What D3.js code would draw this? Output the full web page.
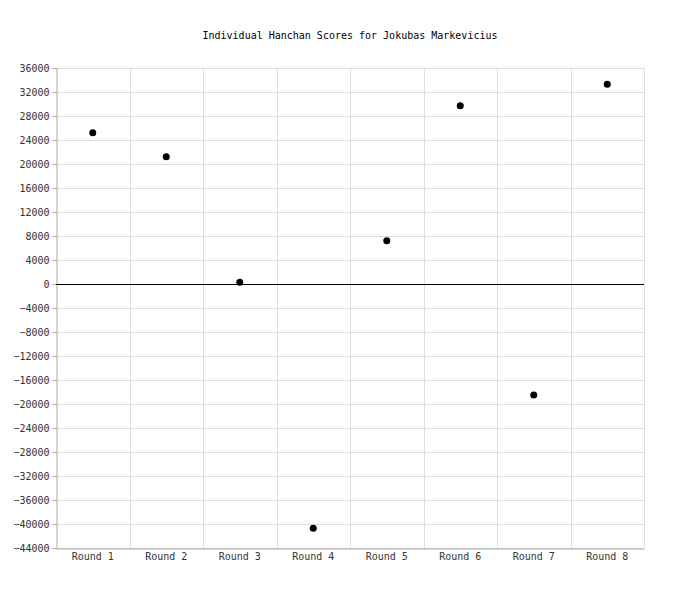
<!DOCTYPE html>
<html><head><meta charset="utf-8">
<script src="https://cdn.jsdelivr.net/npm/d3@7"></script>
<style>body{margin:0;background:#fff}text{font-family:"DejaVu Sans Mono",monospace;font-size:10px;fill:#333}</style>
</head><body><svg id="c" width="700" height="600"></svg>
<script>
const rounds = ['Round 1','Round 2','Round 3','Round 4','Round 5','Round 6','Round 7','Round 8'];
const scores = [25200, 21200, 300, -40700, 7200, 29700, -18500, 33300];
const yTicks = d3.range(-44000, 36001, 4000);

const svg = d3.select('#c');
const m = {l: 56, r: 644, t: 68, b: 548};
const x = d3.scaleBand().domain(rounds).range([m.l, m.r]);
const y = d3.scaleLinear().domain([-44000, 36000]).range([m.b, m.t]);

svg.append('text').attr('x', 350).attr('y', 39).attr('text-anchor', 'middle')
  .style('fill', '#000').text('Individual Hanchan Scores for Jokubas Markevicius');

// grid
svg.selectAll('.hg').data(yTicks).enter().append('line')
  .attr('x1', m.l).attr('x2', m.r).attr('y1', d => y(d) + .5).attr('y2', d => y(d) + .5)
  .attr('stroke', '#ddd');
svg.selectAll('.vg').data(rounds).enter().append('line')
  .attr('x1', d => Math.round(x(d) + x.bandwidth()) + .5)
  .attr('x2', d => Math.round(x(d) + x.bandwidth()) + .5)
  .attr('y1', m.t).attr('y2', m.b).attr('stroke', '#ddd');

// axes
const ya = svg.append('g').attr('transform', `translate(${m.l + .5},0)`)
  .call(d3.axisLeft(y).tickValues(yTicks).tickSize(4).tickFormat(d3.format('d')));
const xa = svg.append('g').attr('transform', `translate(0,${m.b + .5})`)
  .call(d3.axisBottom(x).tickSize(0).tickPadding(4));
[ya, xa].forEach(g => { g.select('.domain').attr('stroke', '#aaa'); g.selectAll('line').attr('stroke', '#aaa'); g.selectAll('text').style('font-family', '"DejaVu Sans Mono",monospace').style('font-size', '10px').style('fill', '#333'); });

svg.append('line').attr('x1', m.l).attr('x2', m.r).attr('y1', y(0) + .5).attr('y2', y(0) + .5).attr('stroke', '#000');

svg.selectAll('.pt').data(scores).enter().append('circle')
  .attr('cx', (d, i) => x(rounds[i]) + x.bandwidth() / 2).attr('cy', d => y(d))
  .attr('r', 3.5).attr('fill', '#000');
</script></body></html>
